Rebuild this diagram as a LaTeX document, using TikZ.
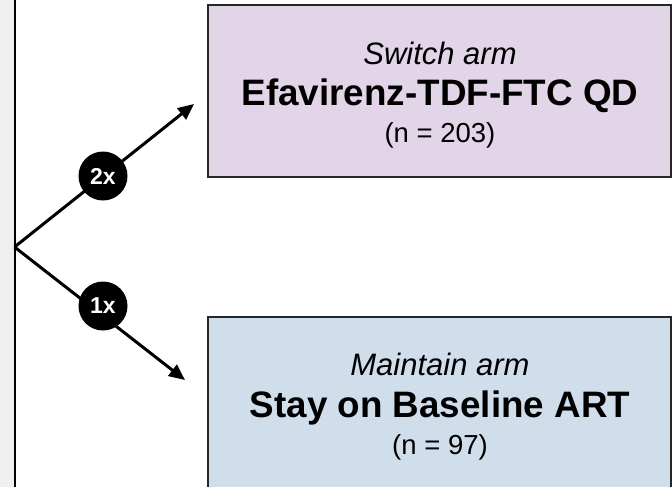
\documentclass[tikz,border=0pt]{standalone}
\usepackage{fontspec}
\setmainfont{Liberation Sans}
\usetikzlibrary{arrows.meta}
\definecolor{switchfill}{RGB}{225,213,231}
\definecolor{stayfill}{RGB}{208,222,236}
\definecolor{stripgray}{RGB}{240,240,240}
\begin{document}
\begin{tikzpicture}[x=1pt,y=-1pt,
	armbox/.style={draw=black!85,line width=1.8pt,minimum width=463pt,inner sep=0pt},
	arm/.style={line width=3pt,-{Triangle[length=16pt,width=14pt]}},
	ratio/.style={circle,fill=black,text=white,font=\bfseries\fontsize{23}{23}\selectfont,minimum size=49pt,inner sep=0pt},
	armtag/.style={anchor=base,font=\itshape\fontsize{31}{31}\selectfont},
	armdrug/.style={anchor=base,font=\bfseries\fontsize{36.8}{37}\selectfont},
	armsize/.style={anchor=base,font=\fontsize{27.5}{28}\selectfont}]
	\clip (0,0) rectangle (672,487);
	\fill[stripgray] (0,0) rectangle (13.5,487);
	\draw[line width=2pt] (14.5,0) -- (14.5,487);
	% the two arms
	\node[armbox,fill=switchfill,minimum height=172pt] (switch) at (439.5,91) {};
	\node[armbox,fill=stayfill,minimum height=190pt] (stay) at (439.5,412) {};
	\node[armtag] (switchtag) at (440,65) {Switch arm};
	\node[armdrug] (switchdrug) at (440,105) {Efavirenz-TDF-FTC QD};
	\node[armsize] (switchn) at (440,142) {(n = 203)};
	\node[armtag] (staytag) at (440,375) {Maintain arm};
	\node[armdrug] (staydrug) at (440,417) {Stay on Baseline ART};
	\node[armsize] (stayn) at (440,454) {(n = 97)};
	% randomisation 2:1
	\coordinate (split) at (14.5,247);
	\coordinate (switchtip) at (194,104);
	\coordinate (staytip) at (185,380);
	\draw[arm] (split) -- (switchtip);
	\draw[arm] (split) -- (staytip);
	\node[ratio] (twice) at (103,176) {2x};
	\node[ratio] (once) at (103,306) {1x};
\end{tikzpicture}
\end{document}
